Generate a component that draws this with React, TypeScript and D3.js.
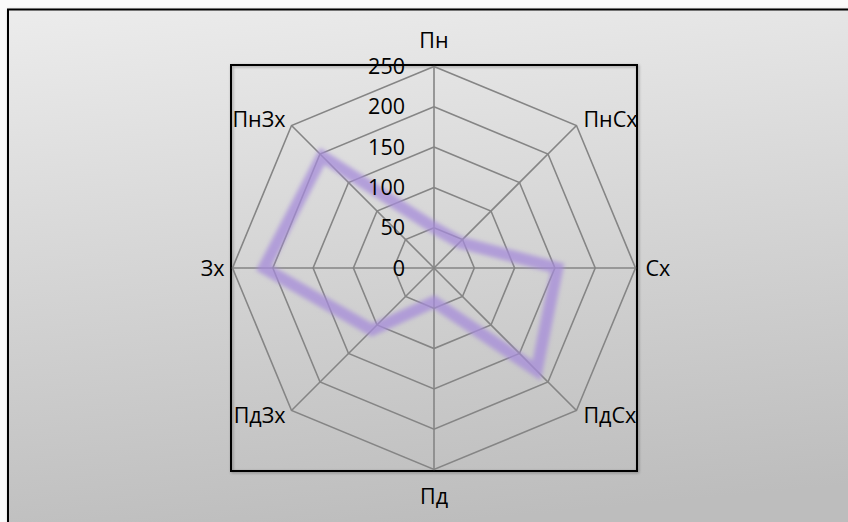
import * as d3 from "d3";

const directions = ["Пн", "ПнСх", "Сх", "ПдСх", "Пд", "ПдЗх", "Зх", "ПнЗх"];
const values = [50, 45, 153, 180, 42, 109, 211, 196];
const ticks = [0, 50, 100, 150, 200, 250];

const W = 848;
const H = 522;
const cx = 434;
const cy = 268;
const R = 201.5;
const font = "'Open Sans', 'Noto Sans', sans-serif";

export default function App() {
  const r = d3.scaleLinear().domain([0, 250]).range([0, R]);
  const step = (2 * Math.PI) / directions.length;
  const ang = (i: number) => i * step;
  const pt = (i: number, v: number): [number, number] => [
    cx + r(v) * Math.sin(ang(i)),
    cy - r(v) * Math.cos(ang(i)),
  ];

  const ringPath = (v: number) =>
    d3.line()(directions.map((_, i) => pt(i, v)).concat([pt(0, v)])) as string;

  const dataLine = d3
    .lineRadial<number>()
    .angle((_, i) => ang(i))
    .radius((d) => r(d))
    .curve(d3.curveLinearClosed);

  // label placement around the outer ring, like the spreadsheet does it
  const labelPos = (i: number) => {
    const [x, y] = pt(i, 250);
    const d = directions[i];
    if (d === "Пн") return { x, y: y - 19, anchor: "middle" };
    if (d === "Пд") return { x, y: y + 34, anchor: "middle" };
    if (d === "Сх") return { x: x + 10, y: y + 8, anchor: "start" };
    if (d === "Зх") return { x: x - 8, y: y + 8, anchor: "end" };
    if (d === "ПнСх") return { x: x + 7, y: y + 1, anchor: "start" };
    if (d === "ПнЗх") return { x: x - 6, y: y + 1, anchor: "end" };
    if (d === "ПдСх") return { x: x + 7, y: y + 13, anchor: "start" };
    return { x: x - 6, y: y + 13, anchor: "end" };
  };

  return (
    <svg
      width={W}
      height={H}
      style={{ position: "absolute", left: 0, top: 0, display: "block" }}
    >
      <defs>
        <linearGradient id="bg" x1="0" y1="0" x2="0.15" y2="1">
          <stop offset="0" stopColor="#ececec" />
          <stop offset="1" stopColor="#bdbdbd" />
        </linearGradient>
        <filter id="blur" x="-10%" y="-10%" width="120%" height="120%">
          <feGaussianBlur stdDeviation="2" />
        </filter>
        <filter id="shadow" x="-5%" y="-5%" width="110%" height="110%">
          <feDropShadow dx="1" dy="1" stdDeviation="1.5" floodColor="#000" floodOpacity="0.35" />
        </filter>
      </defs>
      <rect x={0} y={0} width={W} height={H} fill="#fafafa" />
      <rect
        x={8}
        y={9.5}
        width={W + 20}
        height={H + 20}
        fill="url(#bg)"
        stroke="#000"
        strokeWidth={2}
        filter="url(#shadow)"
      />
      <rect
        x={cx - R - 1.5}
        y={cy - R - 1.5}
        width={2 * R + 3}
        height={2 * R + 3}
        fill="none"
        stroke="#000"
        strokeWidth={2}
        filter="url(#shadow)"
      />
      {ticks
        .filter((t) => t > 0)
        .map((t) => (
          <path key={t} d={ringPath(t)} fill="none" stroke="#858585" strokeWidth={1.6} />
        ))}
      {directions.map((d, i) => {
        const [x, y] = pt(i, 250);
        return <line key={d} x1={cx} y1={cy} x2={x} y2={y} stroke="#858585" strokeWidth={1.6} />;
      })}
      <path
        d={dataLine(values) as string}
        transform={`translate(${cx},${cy})`}
        fill="none"
        stroke="#a68bd9"
        strokeOpacity={0.75}
        strokeWidth={12}
        strokeLinejoin="miter"
        filter="url(#blur)"
      />
      {ticks.map((t) => (
        <text
          key={t}
          x={405}
          y={cy - r(t)}
          dy="0.35em"
          textAnchor="end"
          fontFamily={font}
          fontSize={21.5}
          fill="#000"
        >
          {t}
        </text>
      ))}
      {directions.map((d, i) => {
        const p = labelPos(i);
        return (
          <text
            key={d}
            x={p.x}
            y={p.y}
            textAnchor={p.anchor}
            fontFamily={font}
            fontSize={21.5}
            fill="#000"
          >
            {d}
          </text>
        );
      })}
    </svg>
  );
}
